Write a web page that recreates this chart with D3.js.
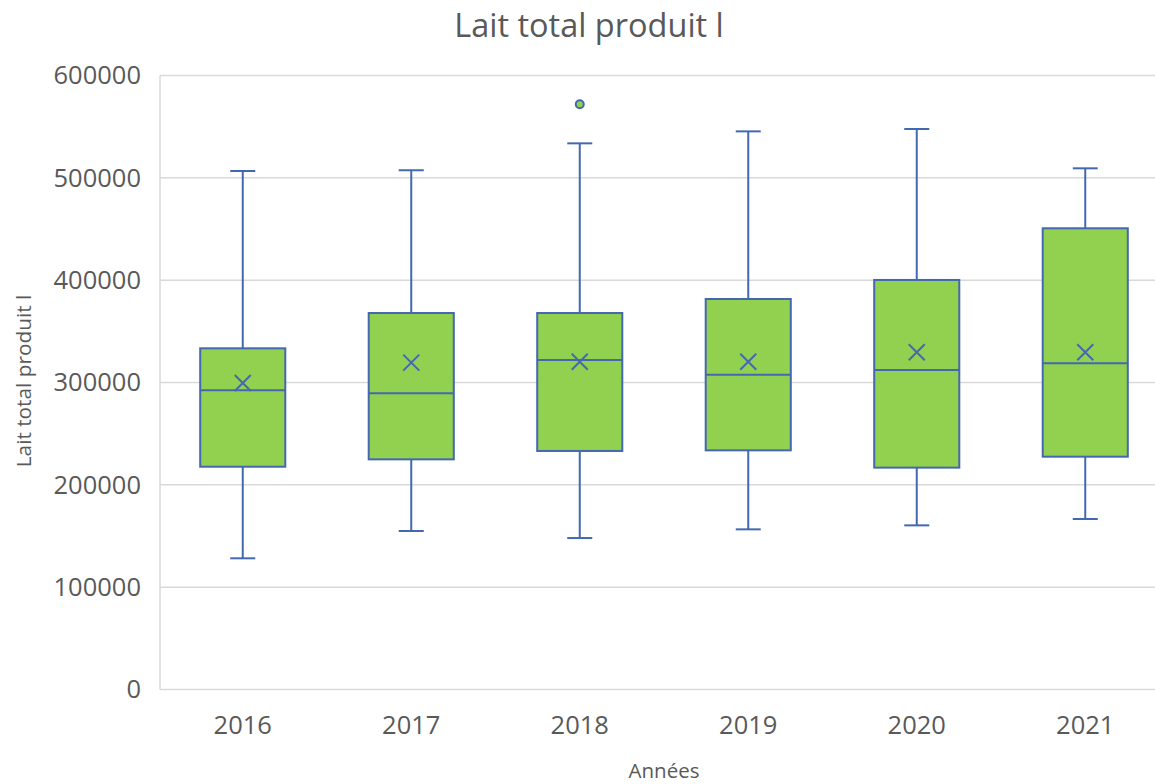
<!DOCTYPE html>
<html><head><meta charset="utf-8">
<script src="https://cdn.jsdelivr.net/npm/d3@7"></script>
<style>body{margin:0;background:#fff}svg{display:block}text{font-family:"Open Sans",sans-serif;fill:#595959}</style>
</head><body><svg id="c" width="1155" height="784"></svg>
<script>
const years = ["2016","2017","2018","2019","2020","2021"];
const lowerWhisker = [128200,154900,148000,156500,160400,166600];
const q1 = [217700,224900,233100,233700,216800,227500];
const median = [292400,289400,322000,307600,312200,318800];
const q3 = [333400,367900,367900,381600,400200,450700];
const upperWhisker = [506700,507400,533700,545400,547700,509300];
const mean = [299500,319400,320300,320300,329500,329500];
const outliers = [[], [], [571900], [], [], []];
const yTicks = [0,100000,200000,300000,400000,500000,600000];

const svg = d3.select("#c");
const stroke = "#4468B0", fill = "#92D050";
const x = d3.scaleBand().domain(years).range([158.5,1169.5]).paddingInner(0).paddingOuter(0);
const y = d3.scaleLinear().domain([0,600000]).range([689.5,75.5]);

// gridlines
svg.append("g").selectAll("line").data(yTicks).join("line")
  .attr("x1",160).attr("x2",1170).attr("y1",d=>y(d)).attr("y2",d=>y(d))
  .attr("stroke","#D9D9D9").attr("stroke-width",1.5);
svg.append("line").attr("x1",160).attr("x2",160).attr("y1",y(600000)).attr("y2",y(0))
  .attr("stroke","#D9D9D9").attr("stroke-width",1.5);

// y axis
const ya = svg.append("g").attr("transform","translate(160,0)")
  .call(d3.axisLeft(y).tickValues(yTicks).tickFormat(d3.format("d")).tickSize(0).tickPadding(19));
ya.select(".domain").remove();
ya.selectAll("text").attr("font-size",25.5).attr("fill","#595959").style("font-family","Open Sans");

// x axis
const xa = svg.append("g").attr("transform","translate(0,689.5)")
  .call(d3.axisBottom(x).tickSize(0).tickPadding(26));
xa.select(".domain").remove();
xa.selectAll("text").attr("font-size",25.5).attr("fill","#595959").style("font-family","Open Sans");

const bw = x.bandwidth()*0.505, cap = 25;
const g = svg.append("g").selectAll("g").data(years).join("g")
  .attr("transform",d=>`translate(${x(d)+x.bandwidth()/2},0)`);
// whiskers
g.append("line").attr("x1",0).attr("x2",0).attr("y1",(d,i)=>y(upperWhisker[i])).attr("y2",(d,i)=>y(q3[i])).attr("stroke",stroke).attr("stroke-width",2);
g.append("line").attr("x1",0).attr("x2",0).attr("y1",(d,i)=>y(lowerWhisker[i])).attr("y2",(d,i)=>y(q1[i])).attr("stroke",stroke).attr("stroke-width",2);
g.append("line").attr("x1",-cap/2).attr("x2",cap/2).attr("y1",(d,i)=>y(upperWhisker[i])).attr("y2",(d,i)=>y(upperWhisker[i])).attr("stroke",stroke).attr("stroke-width",2);
g.append("line").attr("x1",-cap/2).attr("x2",cap/2).attr("y1",(d,i)=>y(lowerWhisker[i])).attr("y2",(d,i)=>y(lowerWhisker[i])).attr("stroke",stroke).attr("stroke-width",2);
// box
g.append("rect").attr("x",-bw/2).attr("width",bw).attr("y",(d,i)=>y(q3[i])).attr("height",(d,i)=>y(q1[i])-y(q3[i]))
  .attr("fill",fill).attr("stroke",stroke).attr("stroke-width",2);
g.append("line").attr("x1",-bw/2).attr("x2",bw/2).attr("y1",(d,i)=>y(median[i])).attr("y2",(d,i)=>y(median[i])).attr("stroke",stroke).attr("stroke-width",2);
// mean X
const m = 8;
g.append("path").attr("d",(d,i)=>{const c=y(mean[i]);return `M${-m},${c-m}L${m},${c+m}M${-m},${c+m}L${m},${c-m}`;})
  .attr("stroke",stroke).attr("stroke-width",2).attr("fill","none");
// outliers
g.selectAll("circle").data((d,i)=>outliers[i]).join("circle")
  .attr("cx",0).attr("cy",v=>y(v)).attr("r",4).attr("fill",fill).attr("stroke",stroke).attr("stroke-width",2);

// titles
svg.append("text").attr("x",589).attr("y",37).attr("text-anchor","middle").attr("font-size",32.5).text("Lait total produit l");
svg.append("text").attr("transform","translate(31,381) rotate(-90)").attr("text-anchor","middle").attr("font-size",20.8).text("Lait total produit l");
svg.append("text").attr("x",664).attr("y",778).attr("text-anchor","middle").attr("font-size",20.5).text("Années");
</script></body></html>
